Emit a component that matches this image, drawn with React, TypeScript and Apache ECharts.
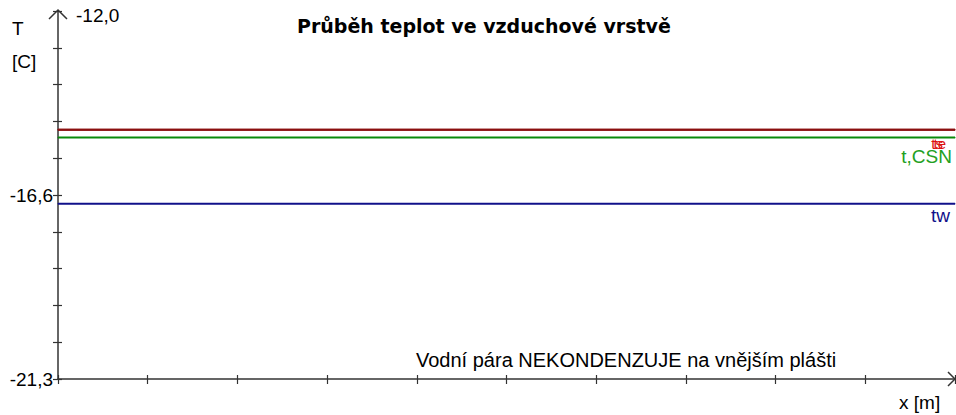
import React, { useEffect, useRef } from "react";
import * as echarts from "echarts";

// ---- data ----
const chartTitle = "Průběh teplot ve vzduchové vrstvě";
const seriesNames = ["ts", "te", "t,CSN", "tw"];
const seriesValues = [-15.0, -15.0, -15.2, -16.87];
const seriesLineColors = ["#8b1010", "#8b1010", "#0a8a0a", "#10108a"];
const seriesLabelColors = ["#dd1010", "#dd1010", "#22a022", "#10108a"];
const xStart = 0;
const xEnd = 10;
const xTickInterval = 1;
const yMin = -21.3;
const yMax = -12.0;
const yTickCount = 10;
const yLabelValues = [-21.3, -16.65];
const yLabelTexts = ["-21,3", "-16,6"];
const yTopLabelValue = -12.0;
const yTopLabelText = "-12,0";
const yAxisName = ["T", "[C]"];
const xAxisName = "x [m]";
const noteText = "Vodní pára NEKONDENZUJE na vnějším plášti";

const FONT = "Liberation Sans";
const AXIS_COLOR = "#333333";

export default function App() {
  const ref = useRef<HTMLDivElement>(null);
  useEffect(() => {
    if (!ref.current) return;
    const chart = echarts.init(ref.current, null, { renderer: "svg" });
    const yTicks: number[] = [];
    for (let i = 0; i <= yTickCount; i++) {
      yTicks.push(+(yMin + ((yMax - yMin) * i) / yTickCount).toFixed(4));
    }
    const labelSpec = [
      { fontSize: 15, distance: 6, offset: [-12, 0] },
      { fontSize: 15, distance: 6, offset: [-9, 0] },
      { fontSize: 19, distance: 9, offset: [-3, 0] },
      { fontSize: 19, distance: 2, offset: [-5, 0] },
    ];
    const series = seriesNames.map((name, i) => ({
      type: "line",
      name,
      showSymbol: true,
      symbol: "circle",
      symbolSize: 1,
      itemStyle: { color: seriesLineColors[i] },
      lineStyle: { color: seriesLineColors[i], width: 2 },
      z: 3,
      label: { show: false },
      data: [
        [xStart, seriesValues[i]],
        {
          value: [xEnd, seriesValues[i]],
          label: {
            show: true,
            position: "bottom",
            align: "right",
            distance: labelSpec[i].distance,
            offset: labelSpec[i].offset,
            formatter: name,
            fontFamily: FONT,
            fontSize: labelSpec[i].fontSize,
            color: seriesLabelColors[i],
          },
        },
      ],
    }));

    const baseGraphic: any[] = [
      {
        type: "text",
        left: 12,
        top: 19,
        style: { text: yAxisName[0], font: `19px "${FONT}"`, fill: "#000" },
      },
      {
        type: "text",
        left: 12,
        top: 52,
        style: { text: yAxisName[1], font: `19px "${FONT}"`, fill: "#000" },
      },
      {
        type: "text",
        left: 416,
        top: 350,
        style: { text: noteText, font: `20px "${FONT}"`, fill: "#000" },
      },
      {
        type: "text",
        left: 899,
        top: 393,
        style: { text: xAxisName, font: `19px "${FONT}"`, fill: "#000" },
      },
    ];

    chart.setOption({
      animation: false,
      backgroundColor: "#ffffff",
      title: {
        text: chartTitle,
        left: 292,
        top: 11,
        textStyle: {
          fontFamily: "DejaVu Sans",
          fontWeight: "bold",
          fontSize: 19,
          color: "#000",
        },
      },
      grid: {
        left: 58,
        right: 1,
        top: 11,
        bottom: 36,
        containLabel: false,
        outerBoundsMode: "none",
      },
      xAxis: [
        {
          type: "value",
          min: xStart,
          max: xEnd,
          interval: xTickInterval,
          splitLine: { show: false },
          axisLabel: { show: false },
          axisLine: { show: true, lineStyle: { color: AXIS_COLOR, width: 1.5 } },
          axisTick: { show: true, length: 5, lineStyle: { color: AXIS_COLOR, width: 1.2 } },
        },
        {
          type: "value",
          position: "bottom",
          min: xStart,
          max: xEnd,
          interval: xTickInterval,
          splitLine: { show: false },
          axisLabel: { show: false },
          axisLine: { show: false },
          axisTick: { show: true, inside: true, length: 4, lineStyle: { color: AXIS_COLOR, width: 1.2 } },
        },
      ],
      yAxis: [
        {
          type: "value",
          min: yMin,
          max: yMax,
          splitLine: { show: false },
          axisLine: { show: true, lineStyle: { color: AXIS_COLOR, width: 1.5 } },
          axisTick: {
            show: true,
            length: 5,
            customValues: yTicks,
            lineStyle: { color: AXIS_COLOR, width: 1.2 },
          },
          axisLabel: {
            show: true,
            customValues: yLabelValues,
            formatter: (v: number) => {
              const idx = yLabelValues.findIndex((x) => Math.abs(x - v) < 1e-6);
              return idx >= 0 ? yLabelTexts[idx] : "";
            },
            margin: 5,
            fontFamily: FONT,
            fontSize: 19,
            color: "#000",
          },
        },
        {
          type: "value",
          position: "left",
          min: yMin,
          max: yMax,
          splitLine: { show: false },
          axisLine: { show: false },
          axisTick: {
            show: true,
            inside: true,
            length: 4,
            customValues: yTicks,
            lineStyle: { color: AXIS_COLOR, width: 1.2 },
          },
          axisLabel: {
            show: true,
            inside: true,
            customValues: [yTopLabelValue],
            formatter: () => yTopLabelText,
            margin: 18,
            verticalAlign: "top",
            padding: [-5, 0, 0, 0],
            fontFamily: FONT,
            fontSize: 19,
            color: "#000",
          },
        },
      ],
      graphic: baseGraphic,
      series,
    });

    // axis arrows placed at the axis ends computed by the library
    const yTop = chart.convertToPixel({ gridIndex: 0 } as any, [xStart, yMax]) as number[];
    const xRight = chart.convertToPixel({ gridIndex: 0 } as any, [xEnd, yMin]) as number[];
    const arrowStyle = { stroke: AXIS_COLOR, lineWidth: 1.5, fill: "none" };
    chart.setOption({
      graphic: [
        ...baseGraphic,
        {
          type: "polyline",
          shape: {
            points: [
              [yTop[0] - 9, yTop[1] + 8],
              [yTop[0], yTop[1] - 1],
              [yTop[0] + 9, yTop[1] + 8],
            ],
          },
          style: arrowStyle,
          z: 10,
        },
        {
          type: "polyline",
          shape: {
            points: [
              [xRight[0] - 7, xRight[1] - 7],
              [xRight[0], xRight[1]],
              [xRight[0] - 7, xRight[1] + 7],
            ],
          },
          style: arrowStyle,
          z: 10,
        },
      ],
    });
    return () => chart.dispose();
  }, []);
  return (
    <div
      ref={ref}
      style={{ position: "fixed", left: 0, top: 0, width: 956, height: 415, background: "#fff" }}
    />
  );
}
